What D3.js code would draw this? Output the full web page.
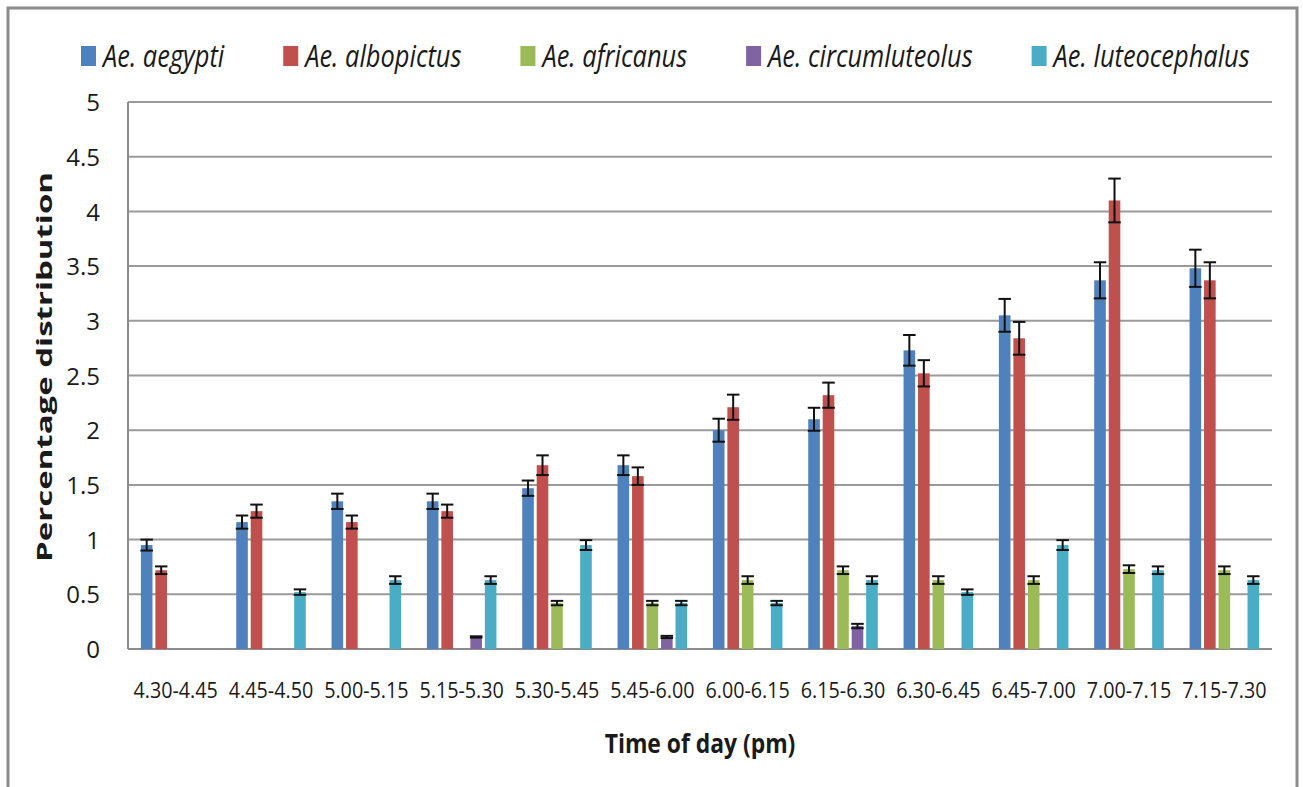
<!DOCTYPE html>
<html>
<head>
<meta charset="utf-8">
<script src="https://cdn.jsdelivr.net/npm/d3@7"></script>
<style>
  html, body { margin: 0; padding: 0; background: #ffffff; }
  svg { display: block; }
  text { font-family: "Open Sans", "Liberation Sans", sans-serif; fill: #1a1a1a; }
</style>
</head>
<body>
<svg id="chart" width="1303" height="787"></svg>
<script>
// Time slots (pm)
const categories = ["4.30-4.45", "4.45-4.50", "5.00-5.15", "5.15-5.30", "5.30-5.45", "5.45-6.00",
                    "6.00-6.15", "6.15-6.30", "6.30-6.45", "6.45-7.00", "7.00-7.15", "7.15-7.30"];

// Species
const seriesNames = ["Ae. aegypti", "Ae. albopictus", "Ae. africanus", "Ae. circumluteolus", "Ae. luteocephalus"];
const seriesColors = ["#4F81BD", "#C0504D", "#9BBB59", "#8064A2", "#4BACC6"];

// Percentage distribution per slot, with error bar half-lengths
const aegypti           = [0.95, 1.16, 1.35, 1.35, 1.47, 1.68, 2.00, 2.10, 2.73, 3.05, 3.37, 3.48];
const aegyptiErr        = [0.05, 0.06, 0.07, 0.07, 0.07, 0.09, 0.105, 0.105, 0.14, 0.15, 0.165, 0.17];
const albopictus        = [0.72, 1.26, 1.16, 1.26, 1.68, 1.58, 2.21, 2.32, 2.52, 2.84, 4.10, 3.37];
const albopictusErr     = [0.035, 0.06, 0.06, 0.06, 0.09, 0.08, 0.115, 0.115, 0.12, 0.15, 0.20, 0.165];
const africanus         = [0, 0, 0, 0, 0.42, 0.42, 0.63, 0.72, 0.63, 0.63, 0.73, 0.72];
const africanusErr      = [0, 0, 0, 0, 0.02, 0.02, 0.035, 0.035, 0.035, 0.035, 0.035, 0.035];
const circumluteolus    = [0, 0, 0, 0.11, 0, 0.11, 0, 0.21, 0, 0, 0, 0];
const circumluteolusErr = [0, 0, 0, 0.006, 0, 0.01, 0, 0.02, 0, 0, 0, 0];
const luteocephalus     = [0, 0.52, 0.63, 0.63, 0.95, 0.42, 0.42, 0.63, 0.52, 0.95, 0.72, 0.63];
const luteocephalusErr  = [0, 0.025, 0.035, 0.035, 0.045, 0.02, 0.02, 0.035, 0.025, 0.045, 0.035, 0.035];

// Axis ticks
const yTicks = [0, 0.5, 1, 1.5, 2, 2.5, 3, 3.5, 4, 4.5, 5];
const yTitle = "Percentage distribution";
const xTitle = "Time of day (pm)";

const seriesValues = [aegypti, albopictus, africanus, circumluteolus, luteocephalus];
const seriesErrors = [aegyptiErr, albopictusErr, africanusErr, circumluteolusErr, luteocephalusErr];

const svg = d3.select("#chart");
const plot = { left: 128, right: 1272, top: 102, bottom: 649 };

// Outer frame of the chart area
svg.append("rect")
  .attr("x", 8).attr("y", 8)
  .attr("width", 1289).attr("height", 900)
  .attr("fill", "none")
  .attr("stroke", "#8c8c8c")
  .attr("stroke-width", 3);

const y = d3.scaleLinear().domain([0, 5]).range([plot.bottom, plot.top]);
const x0 = d3.scaleBand().domain(categories).range([plot.left, plot.right])
  .paddingInner(0.24).paddingOuter(0.12);
const x1 = d3.scaleBand().domain(d3.range(seriesNames.length)).range([0, x0.bandwidth()])
  .paddingInner(0.2).paddingOuter(0.1);

// Horizontal gridlines
svg.append("g")
  .selectAll("line")
  .data(yTicks.filter(t => t > 0))
  .join("line")
  .attr("x1", plot.left).attr("x2", plot.right)
  .attr("y1", d => y(d)).attr("y2", d => y(d))
  .attr("stroke", "#9a9a9a")
  .attr("stroke-width", 2);

// Y axis labels
const yAxis = svg.append("g")
  .attr("transform", `translate(${plot.left},0)`)
  .call(d3.axisLeft(y).tickValues(yTicks).tickSize(0).tickPadding(28).tickFormat(d => String(d)));
yAxis.select(".domain").remove();
yAxis.selectAll("text")
  .attr("font-size", 24)
  .attr("font-family", "'Open Sans', sans-serif")
  .attr("fill", "#1a1a1a")
  .attr("dy", "0.36em");

// X axis labels
const xAxis = svg.append("g")
  .attr("transform", `translate(0,${plot.bottom})`)
  .call(d3.axisBottom(x0).tickSize(0).tickPadding(34));
xAxis.select(".domain").remove();
xAxis.selectAll("text")
  .attr("font-size", 21)
  .attr("font-family", "'Open Sans', sans-serif")
  .attr("fill", "#1a1a1a")
  .attr("transform", "scale(0.94,1)");

// Axis lines
svg.append("line")
  .attr("x1", plot.left).attr("x2", plot.left)
  .attr("y1", plot.top).attr("y2", plot.bottom)
  .attr("stroke", "#8c8c8c").attr("stroke-width", 2);
svg.append("line")
  .attr("x1", plot.left).attr("x2", plot.right)
  .attr("y1", plot.bottom).attr("y2", plot.bottom)
  .attr("stroke", "#8c8c8c").attr("stroke-width", 2);

// Bars with error bars
const cells = [];
seriesValues.forEach((vals, s) => {
  vals.forEach((v, i) => {
    if (v > 0) cells.push({ s, cat: categories[i], v, e: seriesErrors[s][i] });
  });
});

const barG = svg.append("g");
barG.selectAll("rect")
  .data(cells)
  .join("rect")
  .attr("x", d => x0(d.cat) + x1(d.s))
  .attr("y", d => y(d.v))
  .attr("width", x1.bandwidth())
  .attr("height", d => y(0) - y(d.v))
  .attr("fill", d => seriesColors[d.s]);

const capW = 12.5;
const errG = svg.append("g").attr("stroke", "#111").attr("stroke-width", 2);
cells.forEach(d => {
  const cx = x0(d.cat) + x1(d.s) + x1.bandwidth() / 2;
  const yHi = y(d.v + d.e), yLo = y(d.v - d.e);
  errG.append("line").attr("x1", cx).attr("x2", cx).attr("y1", yHi).attr("y2", yLo);
  errG.append("line").attr("x1", cx - capW / 2).attr("x2", cx + capW / 2).attr("y1", yHi).attr("y2", yHi);
  errG.append("line").attr("x1", cx - capW / 2).attr("x2", cx + capW / 2).attr("y1", yLo).attr("y2", yLo);
});

// Legend across the top
const legendSx = 0.82;
let lx = 81;
seriesNames.forEach((name, s) => {
  svg.append("rect")
    .attr("x", lx).attr("y", 46)
    .attr("width", 15).attr("height", 20)
    .attr("fill", seriesColors[s]);
  const t = svg.append("text")
    .attr("transform", `translate(${lx + 22},67) scale(${legendSx},1)`)
    .attr("font-size", 31)
    .attr("font-style", "italic")
    .text(name);
  const w = t.node().getComputedTextLength() * legendSx;
  lx += 22 + w + 59;
});

// Axis titles
svg.append("text")
  .attr("transform", `translate(${(plot.left + plot.right) / 2},753) scale(0.88,1)`)
  .attr("text-anchor", "middle")
  .attr("font-size", 26)
  .attr("font-weight", "bold")
  .text(xTitle);

svg.append("text")
  .attr("transform", "translate(52,367) rotate(-90) scale(1.5,1)")
  .attr("text-anchor", "middle")
  .attr("font-size", 22)
  .attr("font-weight", "bold")
  .text(yTitle);
</script>
</body>
</html>
